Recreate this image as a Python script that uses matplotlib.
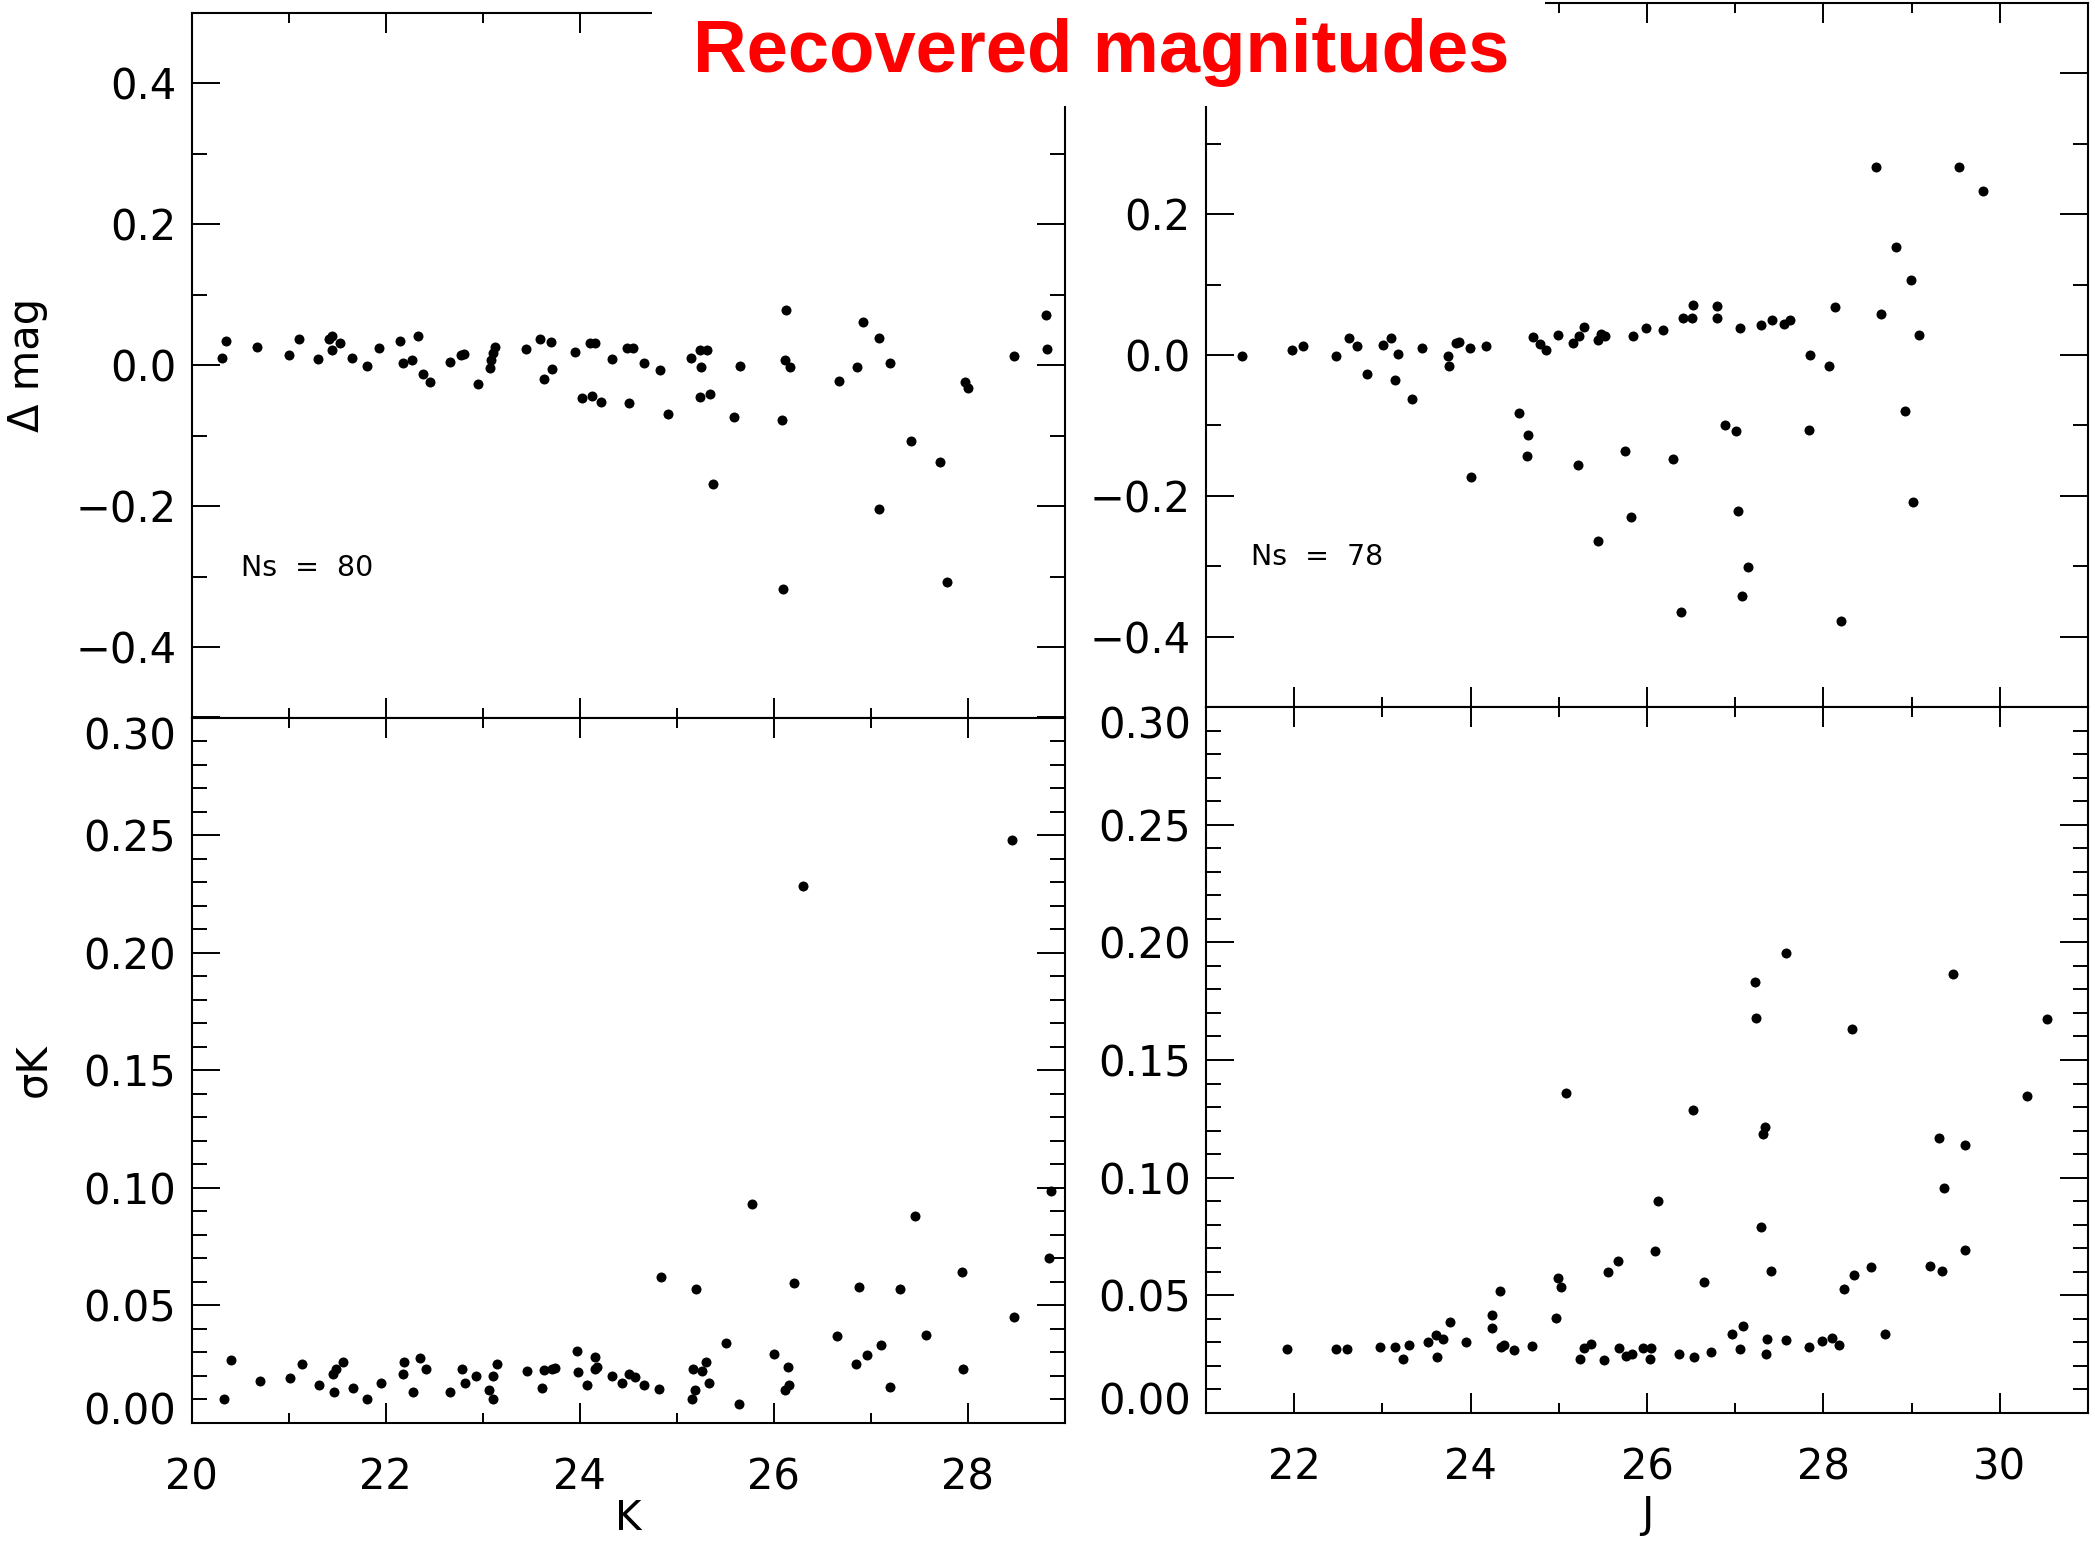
import numpy as np
import matplotlib
matplotlib.use('Agg')
import matplotlib.pyplot as plt
from matplotlib.patches import Rectangle
from matplotlib.transforms import ScaledTranslation

# K band: recovered - input magnitude
k_dmag_x = [20.31, 20.36, 20.68, 21.00, 21.11, 21.30, 21.42, 21.45, 21.45, 21.53,
            21.65, 21.81, 21.93, 22.15, 22.18, 22.27, 22.33, 22.39, 22.46, 22.67,
            22.78, 22.81, 22.95, 23.08, 23.09, 23.11, 23.13, 23.45, 23.59, 23.71,
            23.63, 23.72, 23.95, 24.03, 24.11, 24.16, 24.13, 24.22, 24.33, 24.49,
            24.55, 24.51, 24.66, 24.83, 24.91, 25.15, 25.24, 25.31, 25.25, 25.24,
            25.35, 25.38, 25.59, 25.65, 26.09, 26.13, 26.12, 26.17, 26.10, 26.68,
            26.86, 26.92, 27.09, 27.09, 27.20, 27.42, 27.72, 27.79, 27.97, 28.01,
            28.48, 28.81, 28.82]
k_dmag_y = [0.010, 0.034, 0.026, 0.014, 0.037, 0.009, 0.037, 0.042, 0.022, 0.031,
            0.010, -0.001, 0.024, 0.035, 0.003, 0.007, 0.041, -0.013, -0.024, 0.005,
            0.015, 0.016, -0.027, -0.004, 0.008, 0.018, 0.026, 0.023, 0.037, 0.033,
            -0.019, -0.006, 0.019, -0.047, 0.032, 0.032, -0.043, -0.052, 0.009, 0.024,
            0.024, -0.053, 0.003, -0.007, -0.069, 0.010, 0.022, 0.021, -0.002, -0.045,
            -0.041, -0.168, -0.073, -0.001, -0.078, 0.078, 0.008, -0.002, -0.318, -0.023,
            -0.003, 0.062, 0.039, -0.204, 0.003, -0.107, -0.137, -0.308, -0.024, -0.033,
            0.013, 0.071, 0.023]

# K band: photometric error
k_sig_x = [20.33, 20.41, 20.71, 21.02, 21.14, 21.31, 21.46, 21.49, 21.47, 21.56,
           21.66, 21.81, 21.95, 22.19, 22.18, 22.28, 22.36, 22.42, 22.67, 22.79,
           22.82, 22.93, 23.07, 23.11, 23.11, 23.15, 23.46, 23.61, 23.63, 23.72,
           23.75, 23.97, 23.98, 24.08, 24.16, 24.16, 24.18, 24.33, 24.44, 24.51,
           24.57, 24.66, 24.82, 24.84, 25.16, 25.17, 25.19, 25.20, 25.26, 25.30,
           25.34, 25.51, 25.64, 25.78, 26.00, 26.12, 26.16, 26.15, 26.21, 26.30,
           26.65, 26.85, 26.88, 26.96, 27.11, 27.20, 27.30, 27.46, 27.57, 27.94,
           27.95, 28.46, 28.48, 28.84, 28.86]
k_sig_y = [0.0103, 0.027, 0.018, 0.019, 0.025, 0.016, 0.021, 0.023, 0.013, 0.026,
           0.015, 0.010, 0.017, 0.026, 0.021, 0.013, 0.0275, 0.023, 0.013, 0.023,
           0.017, 0.020, 0.014, 0.020, 0.010, 0.025, 0.022, 0.015, 0.0225, 0.023,
           0.0235, 0.0305, 0.0215, 0.016, 0.028, 0.023, 0.024, 0.020, 0.017, 0.021,
           0.0195, 0.016, 0.0145, 0.062, 0.010, 0.023, 0.014, 0.057, 0.022, 0.026,
           0.017, 0.034, 0.008, 0.093, 0.0295, 0.014, 0.016, 0.024, 0.0595, 0.2285,
           0.037, 0.025, 0.058, 0.029, 0.033, 0.0155, 0.057, 0.088, 0.0375, 0.064,
           0.023, 0.248, 0.045, 0.070, 0.0985]

# J band: recovered - input magnitude
j_dmag_x = [21.41, 21.97, 22.10, 22.47, 22.62, 22.71, 22.83, 23.01, 23.10, 23.14,
            23.18, 23.34, 23.45, 23.74, 23.75, 23.83, 23.87, 23.99, 24.01, 24.18,
            24.55, 24.65, 24.64, 24.71, 24.79, 24.86, 24.99, 25.16, 25.22, 25.23,
            25.29, 25.44, 25.44, 25.48, 25.52, 25.75, 25.82, 25.84, 25.99, 26.18,
            26.29, 26.39, 26.41, 26.51, 26.52, 26.79, 26.79, 26.88, 27.01, 27.03,
            27.05, 27.08, 27.15, 27.29, 27.42, 27.55, 27.62, 27.84, 27.85, 28.06,
            28.13, 28.20, 28.60, 28.65, 28.82, 28.92, 28.99, 29.02, 29.08, 29.54,
            29.81]
j_dmag_y = [-0.002, 0.007, 0.013, -0.002, 0.024, 0.013, -0.027, 0.014, 0.024, -0.036,
            0.002, -0.062, 0.010, -0.001, -0.015, 0.017, 0.019, 0.010, -0.173, 0.013,
            -0.082, -0.113, -0.144, 0.026, 0.015, 0.007, 0.028, 0.017, -0.156, 0.027,
            0.040, -0.264, 0.022, 0.030, 0.027, -0.137, -0.230, 0.027, 0.039, 0.036,
            -0.148, -0.365, 0.053, 0.053, 0.071, 0.069, 0.052, -0.100, -0.108, -0.222,
            0.039, -0.343, -0.301, 0.043, 0.050, 0.044, 0.050, -0.106, 0.000, -0.015,
            0.068, -0.378, 0.267, 0.058, 0.153, -0.079, 0.107, -0.209, 0.028, 0.267,
            0.233]

# J band: photometric error
j_sig_x = [21.92, 22.47, 22.60, 22.97, 23.14, 23.23, 23.30, 23.52, 23.61, 23.62,
           23.69, 23.77, 23.95, 24.24, 24.24, 24.33, 24.34, 24.38, 24.49, 24.70,
           24.97, 24.99, 25.03, 25.08, 25.24, 25.29, 25.36, 25.51, 25.56, 25.67,
           25.68, 25.76, 25.83, 25.95, 26.03, 26.05, 26.09, 26.12, 26.36, 26.52,
           26.53, 26.65, 26.72, 26.96, 27.06, 27.09, 27.23, 27.24, 27.29, 27.31,
           27.34, 27.35, 27.36, 27.41, 27.58, 27.58, 27.84, 27.98, 28.10, 28.18,
           28.23, 28.32, 28.35, 28.54, 28.70, 29.21, 29.31, 29.35, 29.37, 29.47,
           29.60, 29.60, 30.31, 30.54]
j_sig_y = [0.027, 0.027, 0.027, 0.028, 0.028, 0.023, 0.029, 0.030, 0.033, 0.024,
           0.0315, 0.0385, 0.030, 0.0415, 0.036, 0.052, 0.028, 0.029, 0.0267, 0.0285,
           0.0405, 0.0574, 0.0536, 0.136, 0.0228, 0.0277, 0.0295, 0.0226, 0.060, 0.0646,
           0.0277, 0.0244, 0.0249, 0.0277, 0.0228, 0.0277, 0.069, 0.090, 0.0251, 0.1287,
           0.0238, 0.0556, 0.026, 0.0336, 0.027, 0.037, 0.1833, 0.168, 0.079, 0.1185,
           0.1215, 0.0251, 0.0313, 0.0603, 0.1956, 0.031, 0.0282, 0.0308, 0.0318, 0.029,
           0.0528, 0.163, 0.0587, 0.062, 0.0336, 0.0623, 0.117, 0.0605, 0.0956, 0.1867,
           0.1138, 0.0692, 0.1349, 0.1674]

ns_k = 'Ns  =  80'
ns_j = 'Ns  =  78'

plt.rcParams['font.family'] = ['DejaVu Sans']
plt.rcParams['font.size'] = 30

W, H = 2095, 1544
fig = plt.figure(figsize=(W / 100, H / 100), dpi=100)


# 像素坐标 -> figure 坐标
def box(x0, y0, x1, y1):
    return [x0 / W, 1 - y1 / H, (x1 - x0) / W, (y1 - y0) / H]


def style(ax, xmaj, xmin, ymaj, ymin, xlim, ylim):
    ax.set_xticks(xmaj)
    ax.set_xticks(xmin, minor=True)
    ax.set_yticks(ymaj)
    ax.set_yticks(ymin, minor=True)
    ax.set_xlim(*xlim)
    ax.set_ylim(*ylim)
    ax.tick_params(which='both', direction='in', top=True, right=True,
                   width=1.4, labelsize=30, color='black')
    ax.tick_params(axis='x', which='major', length=14.5, pad=24)
    ax.tick_params(axis='x', which='minor', length=7)
    ax.tick_params(axis='y', which='major', length=20, pad=11)
    ax.tick_params(axis='y', which='minor', length=10.5)
    for s in ax.spines.values():
        s.set_linewidth(1.5)


def nudge_end_labels(ax):
    # 0.00 / 0.30 的刻度标签稍微往里挪
    ticks = ax.yaxis.get_major_ticks()
    lab0 = ticks[0].label1
    lab1 = ticks[-1].label1
    lab0.set_transform(lab0.get_transform() + ScaledTranslation(0, 0.15, fig.dpi_scale_trans))
    lab1.set_transform(lab1.get_transform() + ScaledTranslation(0, -0.15, fig.dpi_scale_trans))


top_ymaj = [-0.4, -0.2, 0.0, 0.2, 0.4]
top_ymin = [-0.3, -0.1, 0.1, 0.3]
bot_ymaj = [0.0, 0.05, 0.10, 0.15, 0.20, 0.25, 0.30]
bot_ymin = [0.01, 0.02, 0.03, 0.04, 0.06, 0.07, 0.08, 0.09, 0.11, 0.12, 0.13, 0.14,
            0.16, 0.17, 0.18, 0.19, 0.21, 0.22, 0.23, 0.24, 0.26, 0.27, 0.28, 0.29]
k_xmaj = [20, 22, 24, 26, 28]
k_xmin = [21, 23, 25, 27]
j_xmaj = [22, 24, 26, 28, 30]
j_xmin = [23, 25, 27, 29]

ax_tl = fig.add_axes(box(191.5, 13, 1064.5, 717.5))
ax_bl = fig.add_axes(box(191.5, 717.5, 1064.5, 1423))
ax_tr = fig.add_axes(box(1206, 3, 2088, 707))
ax_br = fig.add_axes(box(1206, 707, 2088, 1413))

mk = dict(marker='o', ms=7.2, mew=0, color='black', ls='none')

ax_tl.plot(k_dmag_x, k_dmag_y, **mk)
style(ax_tl, k_xmaj, k_xmin, top_ymaj, top_ymin, (20, 29), (-0.5, 0.5))
ax_tl.tick_params(axis='x', labelbottom=False)
ax_tl.set_ylabel('Δ mag', fontsize=30)
ax_tl.yaxis.set_label_coords(-0.1884, 0.5)
ax_tl.yaxis.label.set_va('center')
ax_tl.text(0.057, 0.2116, ns_k, transform=ax_tl.transAxes, fontsize=20.5, va='center')

ax_bl.plot(k_sig_x, k_sig_y, **mk)
style(ax_bl, k_xmaj, k_xmin, bot_ymaj, bot_ymin, (20, 29), (0, 0.30))
ax_bl.set_ylabel('σK', fontsize=30)
ax_bl.yaxis.set_label_coords(-0.1816, 0.5)
ax_bl.yaxis.label.set_va('center')
ax_bl.set_xlabel('K', fontsize=29)
ax_bl.xaxis.set_label_coords(0.5, -0.1365)
ax_bl.xaxis.label.set_va('center')
nudge_end_labels(ax_bl)

ax_tr.plot(j_dmag_x, j_dmag_y, **mk)
style(ax_tr, j_xmaj, j_xmin, top_ymaj, top_ymin, (21, 31), (-0.5, 0.5))
ax_tr.tick_params(axis='x', labelbottom=False)
# 0.4 的标签被标题框挡住了
ax_tr.yaxis.get_major_ticks()[-1].label1.set_visible(False)
ax_tr.text(0.051, 0.2125, ns_j, transform=ax_tr.transAxes, fontsize=20.5, va='center')

ax_br.plot(j_sig_x, j_sig_y, **mk)
style(ax_br, j_xmaj, j_xmin, bot_ymaj, bot_ymin, (21, 31), (0, 0.30))
ax_br.set_xlabel('J', fontsize=30)
ax_br.xaxis.set_label_coords(0.5, -0.1445)
ax_br.xaxis.label.set_va('center')
nudge_end_labels(ax_br)

# 标题的白色底框，盖住两个上方子图的一部分
fig.add_artist(Rectangle((652 / W, 1 - 106 / H), (1545 - 652) / W, 106 / H,
                         transform=fig.transFigure, facecolor='white',
                         edgecolor='none', zorder=5))
fig.text(1101.5 / W, 1 - 71.6 / H, 'Recovered magnitudes', ha='center', va='baseline',
         color='#ff0000', fontsize=53.5, fontweight='bold',
         family=['Liberation Sans', 'DejaVu Sans'], zorder=6)

fig.savefig('out.png', dpi=100, facecolor='white')
